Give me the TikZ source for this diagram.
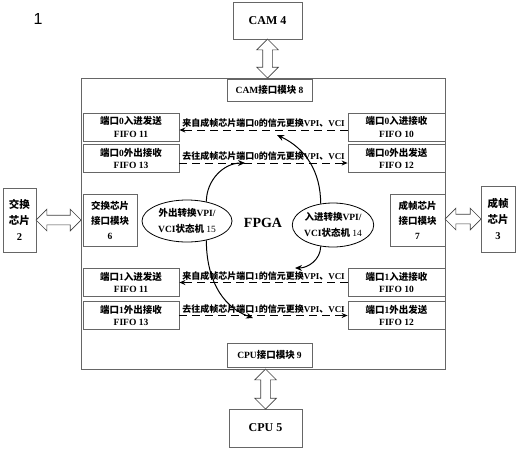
\documentclass[tikz,border=0pt]{standalone}
\usepackage{fontspec}
\setmainfont{Liberation Serif}
\newfontfamily\zhfont{Noto Sans CJK SC}
\newfontfamily\numfont{Liberation Sans}
\usetikzlibrary{shapes.geometric,shapes.arrows,arrows.meta}

\XeTeXinterchartokenstate=1
\newXeTeXintercharclass\zhclass
\count255="4E00
\loop
  \XeTeXcharclass\count255=\zhclass
  \ifnum\count255<"9FFF \advance\count255 by 1 \repeat
\XeTeXcharclass"3001=\zhclass
\XeTeXinterchartoks 0 \zhclass={\zhfont}
\XeTeXinterchartoks 4095 \zhclass={\zhfont}
\XeTeXinterchartoks \zhclass 0={\rmfamily}
\XeTeXinterchartoks 4095 0={\rmfamily}

\begin{document}
\begin{tikzpicture}[x=1pt,y=-1pt,
  box/.style={draw=black!60, line width=0.8pt, inner sep=0pt, align=center,
    font=\fontsize{9.5}{12.5}\selectfont\bfseries},
  fifo/.style={box, minimum width=96, minimum height=28},
  modbox/.style={box, minimum width=54, minimum height=52,
    font=\fontsize{9.5}{15}\selectfont\bfseries},
  chipbox/.style={box, minimum width=33, minimum height=64,
    font=\fontsize{10.5}{16}\selectfont\bfseries},
  titlebox/.style={box, font=\fontsize{12}{14}\selectfont\bfseries},
  fsm/.style={ellipse, draw, line width=0.8pt, inner sep=0pt, align=center,
    font=\fontsize{9.5}{15.5}\selectfont\bfseries},
  bus/.style={double arrow, draw=black!75, line width=0.7pt, fill=white,
    inner sep=4.5pt, minimum width=21, double arrow head extend=6},
  flow/.style={dash pattern=on 8pt off 5pt, line width=1pt,
    -{Stealth[length=6pt,width=5pt]}},
  flowlbl/.style={above=2pt, inner sep=0pt, font=\fontsize{9}{10}\selectfont\bfseries},
  turn/.style={line width=1pt, -{Stealth[length=7pt,width=6pt]}}]
\useasboundingbox (0,0) rectangle (524,450);

\node[font={\XeTeXinterchartokenstate=0 \numfont\fontsize{16}{16}\selectfont}] (fig) at (38,19) {1};

\node[titlebox, minimum width=69, minimum height=37] (cam) at (267.5,20.5) {CAM 4};
\node[box, minimum width=364, minimum height=291] (fpga) at (263,223.5) {};
\node[font=\fontsize{14}{14}\selectfont\bfseries] (fpgatxt) at (263,223) {FPGA};
\node[box, minimum width=85, minimum height=22] (camif) at (269.5,90) {CAM接口模块 8};
\node[box, minimum width=85, minimum height=24] (cpuif) at (269.5,355) {CPU接口模块 9};
\node[titlebox, minimum width=73, minimum height=38] (cpu) at (265.5,428) {CPU 5};

\node[fifo] (inA) at (131,127) {端口0入进发送\\FIFO 11};
\node[fifo] (outA) at (131,158.5) {端口0外出接收\\FIFO 13};
\node[fifo, minimum width=97] (rxA) at (396.5,127) {端口0入进接收\\FIFO 10};
\node[fifo, minimum width=97] (txA) at (396.5,158.5) {端口0外出发送\\FIFO 12};
\node[fifo] (inB) at (131,282.5) {端口1入进发送\\FIFO 11};
\node[fifo] (outB) at (131,315.5) {端口1外出接收\\FIFO 13};
\node[fifo, minimum width=97] (rxB) at (396.5,282.5) {端口1入进接收\\FIFO 10};
\node[fifo, minimum width=97] (txB) at (396.5,315.5) {端口1外出发送\\FIFO 12};

\node[modbox] (swif) at (110,220) {交换芯片\\接口模块\\6};
\node[modbox, minimum width=55] (frif) at (417.5,220) {成帧芯片\\接口模块\\7};
\node[chipbox] (sw) at (19.5,220) {交换\\芯片\\2};
\node[chipbox, minimum width=34, minimum height=66] (fr) at (498,219) {成帧\\芯片\\3};

\node[fsm, minimum width=90, minimum height=42] (outfsm) at (187,221) {外出转换VPI/\\VCI状态机 {\mdseries 15}};
\node[fsm, minimum width=80, minimum height=44] (infsm) at (333,225) {入进转换VPI/\\VCI状态机 {\mdseries 14}};

\path (cam.south) -- (cam.south |- fpga.north) node[midway, bus, rotate=90, minimum height=39] {};
\path (cpu.north) -- (cpu.north |- fpga.south) node[midway, bus, rotate=90, minimum height=40] {};
\path (sw.east) -- (sw.east -| fpga.west) node[midway, bus, minimum height=45] {};
\path (fr.west) -- (fr.west -| fpga.east) node[midway, bus, minimum height=36] {};

\draw[flow] ([yshift=-3]rxA.west) -- node[flowlbl] {来自成帧芯片端口0的信元更换VPI、VCI} ([yshift=-3]inA.east);
\draw[flow] ([yshift=-4.5]outA.east) -- node[flowlbl] {去往成帧芯片端口0的信元更换VPI、VCI} ([yshift=-4.5]txA.west);
\draw[flow] (rxB.west) -- node[flowlbl] {来自成帧芯片端口1的信元更换VPI、VCI} (inB.east);
\draw[flow] (outB.east) -- node[flowlbl] {去往成帧芯片端口1的信元更换VPI、VCI} (txB.west);

\coordinate (tipA) at (245,163);
\coordinate (tipB) at (277,135);
\coordinate (tipC) at (295,268);
\coordinate (tipD) at (253,318);
\draw[turn] (outfsm.45) to[out=90,in=180] (tipA);
\draw[turn] (outfsm.-45) to[out=-90,in=160] (tipD);
\draw[turn] (infsm.120) to[out=90,in=-25] (tipB);
\draw[turn] (infsm.-120) to[out=-90,in=0] (tipC);
\end{tikzpicture}
\end{document}
